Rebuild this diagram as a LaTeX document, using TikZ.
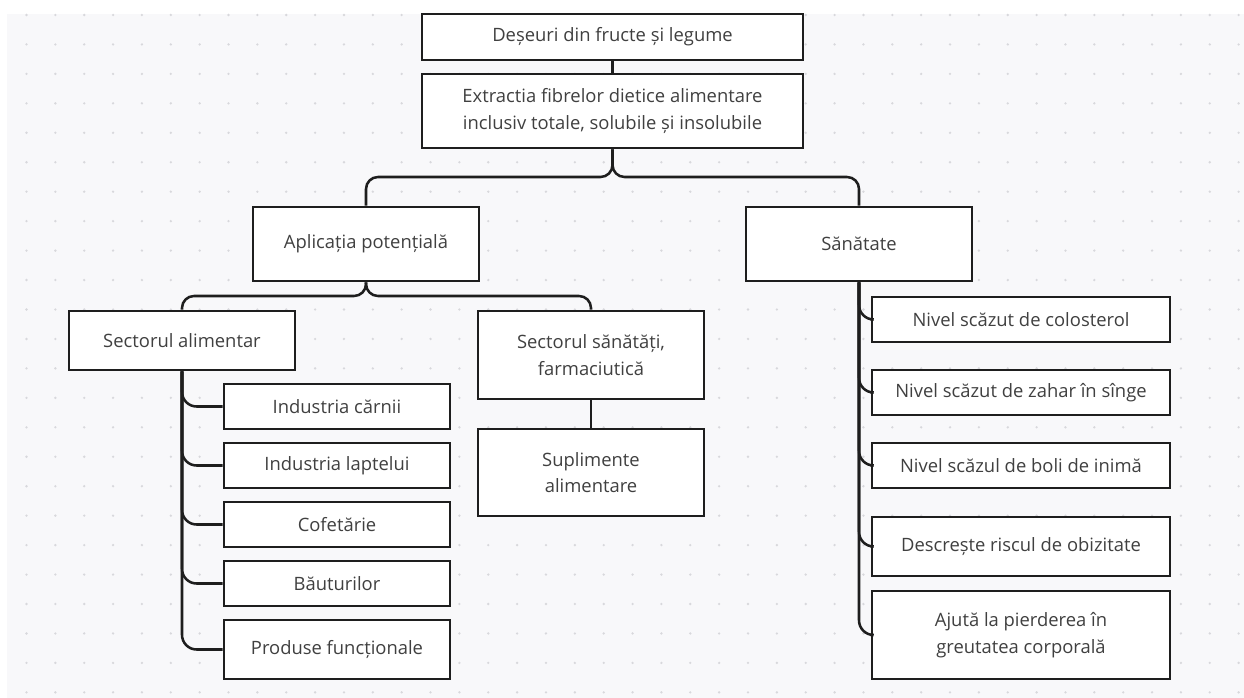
\documentclass[tikz,border=0pt]{standalone}
\usepackage{fontspec}
\setmainfont{Open Sans}
\definecolor{bgc}{HTML}{F8F8FA}
\definecolor{dotc}{HTML}{D8D8DC}
\definecolor{txtc}{HTML}{404040}
\definecolor{linec}{HTML}{1E1E1E}
\tikzset{
  bx/.style={draw=linec, line width=1.9pt, fill=white, inner sep=0pt, align=center,
    text=txtc, font=\fontsize{13.8pt}{20pt}\selectfont},
  conn/.style={draw=linec, line width=1.9pt},
}
\newcommand{\mybox}[6]{%
  \node[bx, minimum width={(#4-#2)*0.75pt}, minimum height={(#5-#3)*0.75pt}]
    (#1) at ({(#2+#4)/2},{(#3+#5)/2}) {#6};}
\begin{document}
\begin{tikzpicture}[x=0.75pt,y=-0.75pt]
\useasboundingbox (0,0) rectangle (1244,698);
\fill[white] (0,0) rectangle (1244,698);
\fill[bgc] (7,14) rectangle (1244,698);
\foreach \i in {0,...,42}{
  \foreach \j in {0,...,23}{
    \fill[dotc] ({26.5+28.86*\i},{15+29.45*\j}) circle (1.3);
  }
}
% boxes
\mybox{top}{422}{14}{803}{60}{Deșeuri din fructe și legume}
\mybox{ext}{422}{74}{803}{148}{Extractia fibrelor dietice alimentare\\inclusiv totale, solubile și insolubile}
\mybox{apl}{253}{207}{479}{281}{Aplicația potențială}
\mybox{san}{746}{207}{972}{281}{Sănătate}
\mybox{sal}{69}{311}{295}{370}{Sectorul alimentar}
\mybox{ssf}{478}{311}{704}{399}{Sectorul sănătăți,\\farmaciutică}
\mybox{sup}{478}{429}{704}{516}{Suplimente\\alimentare}
\mybox{f1}{224}{384}{450}{429}{Industria cărnii}
\mybox{f2}{224}{443}{450}{488}{Industria laptelui}
\mybox{f3}{224}{502}{450}{547}{Cofetărie}
\mybox{f4}{224}{561}{450}{606}{Băuturilor}
\mybox{f5}{224}{620}{450}{679}{Produse funcționale}
\mybox{h1}{872}{297}{1170}{342}{Nivel scăzut de colosterol}
\mybox{h2}{872}{370}{1170}{415}{Nivel scăzut de zahar în sînge}
\mybox{h3}{872}{443}{1170}{488}{Nivel scăzul de boli de inimă}
\mybox{h4}{872}{517}{1170}{576}{Descrește riscul de obizitate}
\mybox{h5}{872}{591}{1170}{679}{Ajută la pierderea în\\greutatea corporală}
% connectors
\coordinate (b1) at (0,177);
\coordinate (b2) at (0,296);
\draw[conn] (top.south) -- (ext.north);
\draw[conn, rounded corners=9] (ext.south) -- (ext.south |- b1) -- (apl.north |- b1) -- (apl.north);
\draw[conn, rounded corners=9] (ext.south) -- (ext.south |- b1) -- (san.north |- b1) -- (san.north);
\draw[conn, rounded corners=9] (apl.south) -- (apl.south |- b2) -- (sal.north |- b2) -- (sal.north);
\draw[conn, rounded corners=9] (apl.south) -- (apl.south |- b2) -- (ssf.north |- b2) -- (ssf.north);
\draw[conn] (ssf.south) -- (sup.north);
\foreach \n in {f1,f2,f3,f4,f5}{
  \draw[conn, rounded corners=11] (sal.south) |- (\n.west);
}
\foreach \n in {h1,h2,h3,h4,h5}{
  \draw[conn, rounded corners=11] (san.south) |- (\n.west);
}
\end{tikzpicture}
\end{document}
